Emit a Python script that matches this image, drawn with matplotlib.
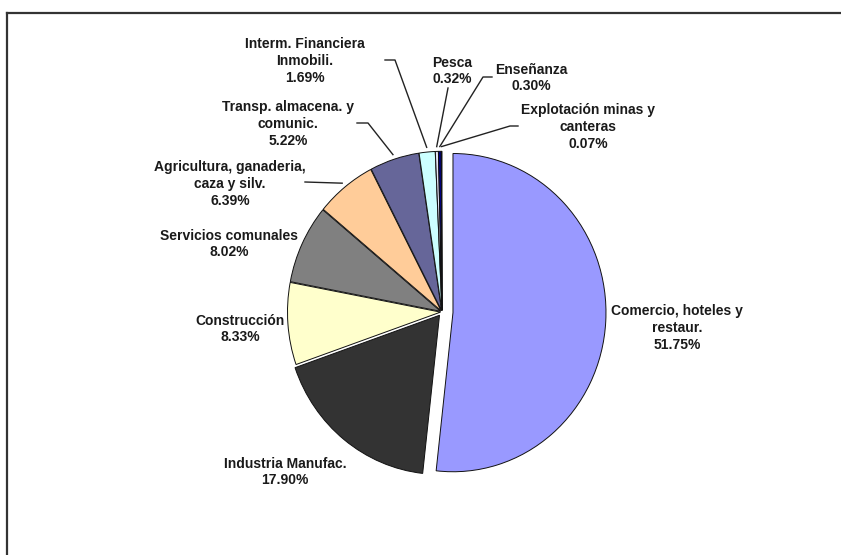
import matplotlib.pyplot as plt
from matplotlib.lines import Line2D
import numpy as np

# datos del grafico
sectores = ['Comercio, hoteles y\nrestaur.', 'Industria Manufac.', 'Construcción',
            'Servicios comunales', 'Agricultura, ganaderia,\ncaza y silv.',
            'Transp. almacena. y\ncomunic.', 'Interm. Financiera\nInmobili.',
            'Pesca', 'Enseñanza', 'Explotación minas y\ncanteras']
porcentajes = [51.75, 17.90, 8.33, 8.02, 6.39, 5.22, 1.69, 0.32, 0.30, 0.07]
colores = ['#9999FF', '#333333', '#FFFFCC', '#808080', '#FFCC99',
           '#666699', '#CCFFFF', '#E4E4F6', '#000080', '#333399']

W, H = 841, 555
ESTIRA = 1.04  # la imagen original esta algo estirada en vertical

def p(x, y):
    # pixel (desde arriba) -> coordenadas de datos
    return x, (H - y) / ESTIRA

# posicion de las etiquetas (centro, en pixeles)
pos_etiq = [(677, 328), (285, 472), (240, 329), (229, 244), (230, 184),
            (288, 124), (305, 61), (452, 71), (531, 78), (588, 127)]
# lineas guia: indice -> (x inicio, x codo, y)
guias = {4: (305, 305, 182), 5: (357, 368, 123), 6: (385, 395, 60),
         7: (448, 448, 88), 8: (492, 483, 77), 9: (518, 510, 126)}

fig = plt.figure(figsize=(W / 100, H / 100), dpi=100)
ax = fig.add_axes([0, 0, 1, 1])

explode = [11, 4] + [1.5] * (len(porcentajes) - 2)
wedges, _ = ax.pie(porcentajes, colors=colores, explode=explode,
                   center=p(442, 312), radius=153, startangle=90,
                   counterclock=False, frame=True,
                   wedgeprops=dict(edgecolor='#111111', linewidth=0.7))

ax.set_aspect('auto')
ax.set_xlim(0, W)
ax.set_ylim(0, H / ESTIRA)
ax.axis('off')

for i, (nombre, v) in enumerate(zip(sectores, porcentajes)):
    ax.text(*p(*pos_etiq[i]), f'{nombre}\n{v:.2f}%', ha='center', va='center',
            fontsize=10, fontweight='bold', family='Liberation Sans',
            linespacing=1.25, color='#1a1a1a')
    if i in guias:
        x0, x1, yg = guias[i]
        w = wedges[i]
        ang = np.radians((w.theta1 + w.theta2) / 2)
        cx, cy = w.center
        xe = cx + w.r * 1.03 * np.cos(ang)
        ye = cy + w.r * 1.03 * np.sin(ang)
        ax.plot([x0, x1, xe], [p(0, yg)[1], p(0, yg)[1], ye],
                color='#222222', lw=1)

# marco recortado
fig.add_artist(Line2D([7 / W, 1], [1 - 13 / H, 1 - 13 / H],
                      transform=fig.transFigure, color='#333333', lw=1.6))
fig.add_artist(Line2D([7 / W, 7 / W], [0, 1 - 13 / H],
                      transform=fig.transFigure, color='#333333', lw=1.6))

fig.savefig('out.png', dpi=100, facecolor='white')
